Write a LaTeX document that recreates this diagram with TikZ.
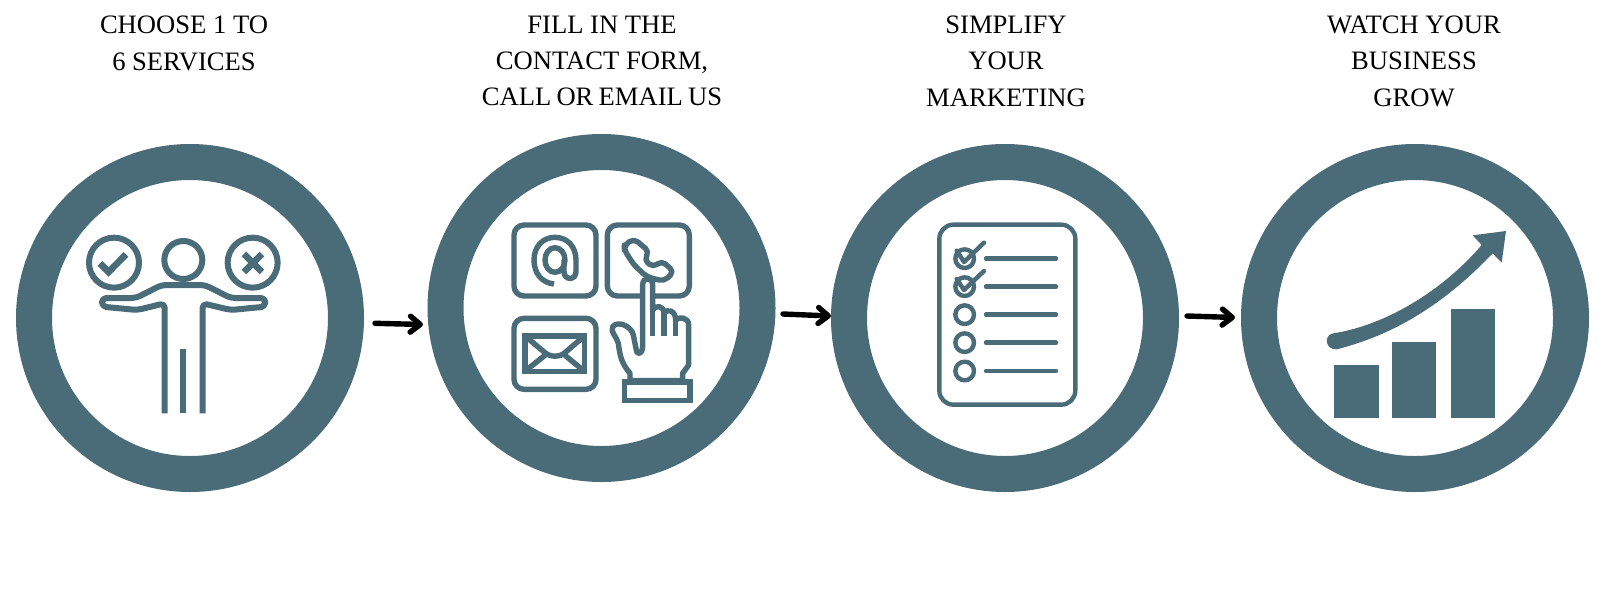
\documentclass[tikz,border=0pt]{standalone}
\usepackage{fontspec}
\setmainfont{Liberation Serif}
\usetikzlibrary{arrows.meta}
\definecolor{teal}{HTML}{4A6B78}
\tikzset{
 ring/.style={circle,draw=teal,line width=18pt,minimum size=156pt,inner sep=0pt,fill=white},
 caption/.style={font=\fontsize{13.3pt}{18.2pt}\selectfont,align=center,text=black,anchor=center,inner sep=0pt},
 connector/.style={line width=2.7pt,line cap=round,-{Straight Barb[length=5pt,width=8pt,line width=2.7pt,round]}},
 ico/.style={draw=teal,line width=3pt,line join=round},
 ico2/.style={draw=teal,line width=2.7pt,line join=round},
 ico3/.style={draw=teal,line width=2.2pt,line cap=round,line join=round},
 zoomed/.style={x=0.5pt/3,y=-0.5pt/3},
}
\begin{document}
\begin{tikzpicture}[x=0.5pt,y=-0.5pt]
\useasboundingbox (0,0) rectangle (1600,600);
\fill[white] (0,0) rectangle (1600,600);
% rings
\node[ring] (c1) at (190,318) {};
\node[ring] (c2) at (601.5,308) {};
\node[ring] (c3) at (1005,318) {};
\node[ring] (c4) at (1415,318) {};
% captions
\node[caption] (t1) at (184,43.5) {CHOOSE 1 TO\\6 SERVICES};
\node[caption] (t2) at (602,61) {FILL IN THE\\CONTACT FORM,\\{\spaceskip=2.6pt\relax CALL OR EMAIL US}};
\node[caption] (t3) at (1006,61) {SIMPLIFY\\YOUR\\MARKETING};
\node[caption] (t4) at (1414,61) {WATCH YOUR\\BUSINESS\\GROW};
% connectors
\coordinate (a1s) at (375,323.3); \coordinate (a1e) at (423,324.5);
\coordinate (a2s) at (783,314); \coordinate (a2e) at (831,316);
\coordinate (a3s) at (1187,316); \coordinate (a3e) at (1235,317.5);
\draw[connector] (a1s) -- (a1e);
\draw[connector] (a2s) -- (a2e);
\draw[connector] (a3s) -- (a3e);
% icon 1: person
\begin{scope}[shift={(30pt,-105pt)},zoomed]
\draw[ico] (162,158) circle (75);
\draw[ico] (370,150) circle (57);
\draw[ico] (578,158) circle (75);
\draw[ico,line width=3.3pt,line join=miter] (120,160) -- (146,186) -- (198,133);
\draw[ico,line width=3.3pt] (552,132) -- (606,186) (606,132) -- (552,186);
\draw[ico,rounded corners=2.2pt] (314,610) -- (314,280) -- (232,300) -- (126,290) -- (126,264) -- (228,264) -- (305,225) -- (435,225) -- (512,264) -- (616,264) -- (616,290) -- (512,300) -- (428,280) -- (428,610);
\draw[ico] (370,417) -- (370,610);
\end{scope}
% icon 2: contact
\begin{scope}[shift={(245pt,-105pt)},zoomed]
\draw[ico2,rounded corners=5pt] (72,45) rectangle (318,258);
\draw[ico2,rounded corners=5pt] (352,45) rectangle (598,258);
\draw[ico2,rounded corners=5pt] (72,325) rectangle (318,538);
\draw[ico2] (192,222) .. controls (155,218) and (132,190) .. (132,150) .. controls (132,110) and (158,82) .. (195,82) .. controls (232,82) and (258,110) .. (258,150) -- (258,185) .. controls (258,212) and (222,212) .. (222,185) -- (222,150);
\draw[ico2] (195,150) ellipse [x radius=30,y radius=37];
\draw[ico2,line join=miter] (105,378) rectangle (283,485);
\draw[ico2] (105,378) -- (165,428) .. controls (180,442) and (210,442) .. (225,428) -- (283,378);
\draw[ico2] (112,478) -- (165,436) (276,478) -- (225,436);
\draw[ico2,rounded corners=2.5pt] (432,86) -- (478,125) -- (462,150) -- (490,172) -- (515,152) -- (552,185) -- (522,214) -- (470,200) -- (432,165) -- (403,120) -- (403,105) -- cycle;
\draw[ico2,fill=white] (420,512) -- (420,490) .. controls (395,460) and (390,440) .. (385,400) .. controls (380,380) and (360,365) .. (368,350) .. controls (385,330) and (425,350) .. (430,375) -- (440,425) .. controls (445,435) and (458,430) .. (458,410) -- (458,225) .. controls (458,200) and (488,200) .. (488,225) -- (488,300) .. controls (495,285) and (522,285) .. (522,310) .. controls (530,295) and (557,300) .. (557,330) .. controls (565,320) and (596,320) .. (596,345) -- (596,465) -- (578,490) -- (578,512) -- cycle;
\draw[ico2] (488,300) -- (488,378) (522,310) -- (522,378) (557,330) -- (557,378);
\draw[ico2,line join=miter] (403,516) rectangle (600,572);
\end{scope}
% icon 3: checklist
\begin{scope}[shift={(460pt,-105pt)},zoomed]
\draw[ico3,rounded corners=7pt] (58,44) rectangle (466,584);
\foreach \yy in {146,230,314,398,483}{
 \draw[ico3] (134,\yy) circle (28);
 \draw[ico3] (198,\yy) -- (408,\yy);
}
\draw[ico3] (110,122) -- (132,156) -- (192,98);
\draw[ico3] (110,207) -- (132,240) -- (192,183);
\end{scope}
% icon 4: growth
\begin{scope}[shift={(655pt,-105pt)},zoomed]
\fill[teal] (73,465) rectangle (206,623);
\fill[teal] (247,397) rectangle (378,623);
\fill[teal] (422,297) rectangle (554,623);
\fill[teal] (70,370) .. controls (230,345) and (400,240) .. (515,105) -- (488,76) -- (588,63) -- (575,158) -- (548,130) .. controls (400,285) and (250,375) .. (80,418) .. controls (45,420) and (40,375) .. (70,370) -- cycle;
\end{scope}
\end{tikzpicture}
\end{document}
